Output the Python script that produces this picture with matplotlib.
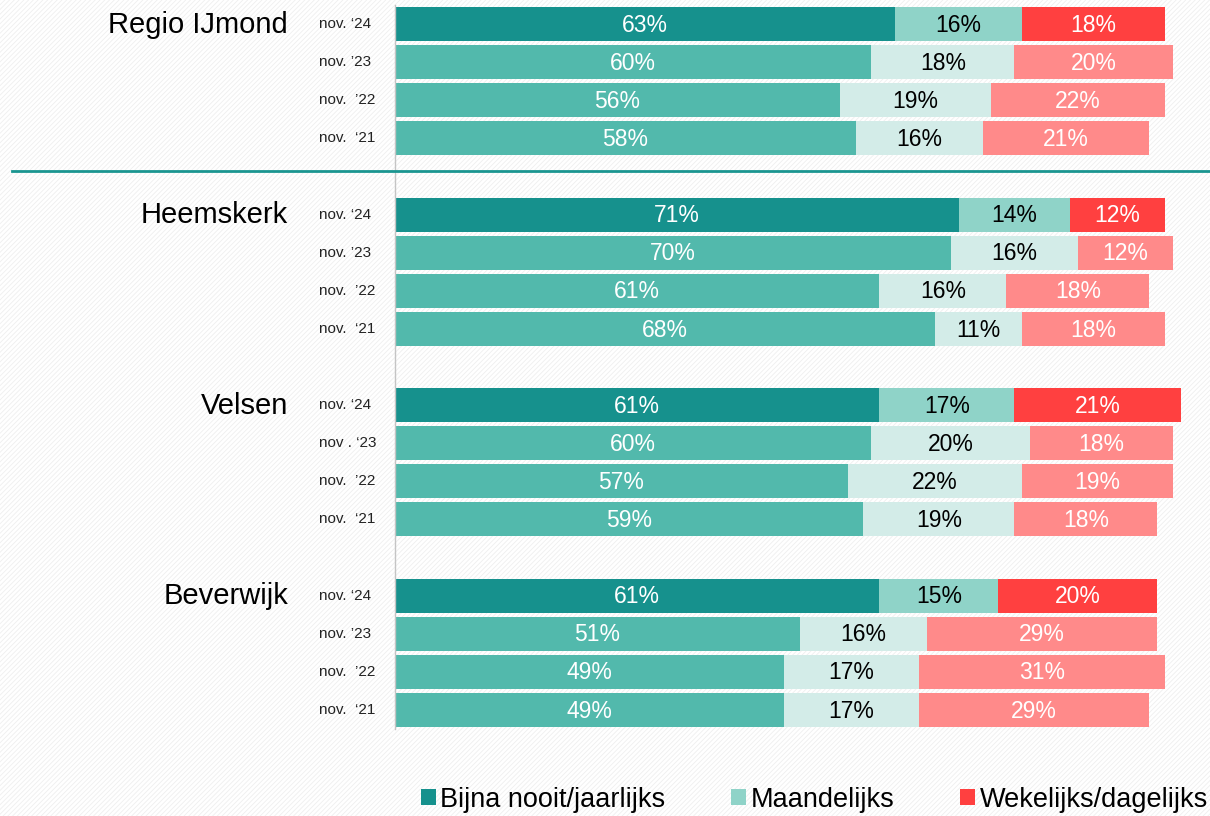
import matplotlib
matplotlib.use("Agg")
import matplotlib.pyplot as plt
import matplotlib.transforms as mtransforms
from matplotlib.patches import Patch, Rectangle
from matplotlib.lines import Line2D

plt.rcParams["font.family"] = ["Liberation Sans", "DejaVu Sans"]
plt.rcParams["hatch.linewidth"] = 0.6
plt.rcParams["hatch.color"] = "#efefef"

# --- data -----------------------------------------------------------------
groups = ["Regio IJmond", "Heemskerk", "Velsen", "Beverwijk"]
year_labels = [
    ["nov. \u201824", "nov. \u201923", "nov.  \u201922", "nov.  \u201821"],
    ["nov. \u201824", "nov. \u201923", "nov.  \u201922", "nov.  \u201821"],
    ["nov. \u201824", "nov . \u201823", "nov.  \u201922", "nov.  \u201821"],
    ["nov. \u201824", "nov. \u201923", "nov.  \u201922", "nov.  \u201821"],
]
series = ["Bijna nooit/jaarlijks", "Maandelijks", "Wekelijks/dagelijks"]
nooit = [[63, 60, 56, 58], [71, 70, 61, 68], [61, 60, 57, 59], [61, 51, 49, 49]]
maand = [[16, 18, 19, 16], [14, 16, 16, 11], [17, 20, 22, 19], [15, 16, 17, 17]]
wekel = [[18, 20, 22, 21], [12, 12, 18, 18], [21, 18, 19, 18], [20, 29, 31, 29]]

# current year (first row) dark colours, earlier years lighter
dark = ["#16918d", "#8fd3c8", "#ff4040"]
light = ["#52b9ac", "#d3ece8", "#ff8a8a"]
text_col = ["white", "black", "white"]

fig = plt.figure(figsize=(12.1, 8.16), dpi=100)
bg = Rectangle((0, 0), 1, 1, transform=fig.transFigure, facecolor="white",
               edgecolor="#efefef", hatch="/" * 7, linewidth=0, zorder=-10)
fig.patches.append(bg)

ax = fig.add_axes([395 / 1210, 1 - 729 / 816, (1189 - 395) / 1210, (729 - 5) / 816])
ax.set_facecolor("none")
ax.set_xlim(0, 100)
ax.set_ylim(18.5, -0.5)
for s in ["top", "right", "bottom"]:
    ax.spines[s].set_visible(False)
ax.spines["left"].set_color("#c4c4c4")
ax.spines["left"].set_linewidth(1.0)
ax.set_xticks([])
ax.set_yticks([])

trans = mtransforms.blended_transform_factory(fig.transFigure, ax.transData)

for g, name in enumerate(groups):
    for i in range(4):
        y = g * 5 + i
        vals = [nooit[g][i], maand[g][i], wekel[g][i]]
        left = 0
        for k, v in enumerate(vals):
            col = dark[k] if i == 0 else light[k]
            ax.barh(y, v, left=left, height=0.89, color=col, linewidth=0)
            ax.text(left + v / 2, y + 0.03, f"{v}%", ha="center", va="center",
                    color=text_col[k], fontsize=16.5)
            left += v
        ax.text(319 / 1210, y, year_labels[g][i], transform=trans,
                ha="left", va="center", fontsize=11, color="#222222")
    ax.text(288 / 1210, g * 5 + 0.02, name, transform=trans, ha="right",
            va="center", fontsize=21, color="black")

# separator under Regio IJmond
sep = Line2D([12 / 1210, 1.0], [3.86, 3.86], transform=trans, color="#1a9590",
             linewidth=2, clip_on=False)
fig.lines.append(sep)

handles = [Patch(facecolor=dark[k], edgecolor="none") for k in range(3)]
fig.legend(handles, series, loc="center", bbox_to_anchor=(0.673, 0.02), ncol=3,
           frameon=False, fontsize=19.5, handlelength=0.55, handleheight=0.55,
           handletextpad=0.15, columnspacing=2.45, borderpad=0, borderaxespad=0)

fig.savefig("out.png", dpi=100)
